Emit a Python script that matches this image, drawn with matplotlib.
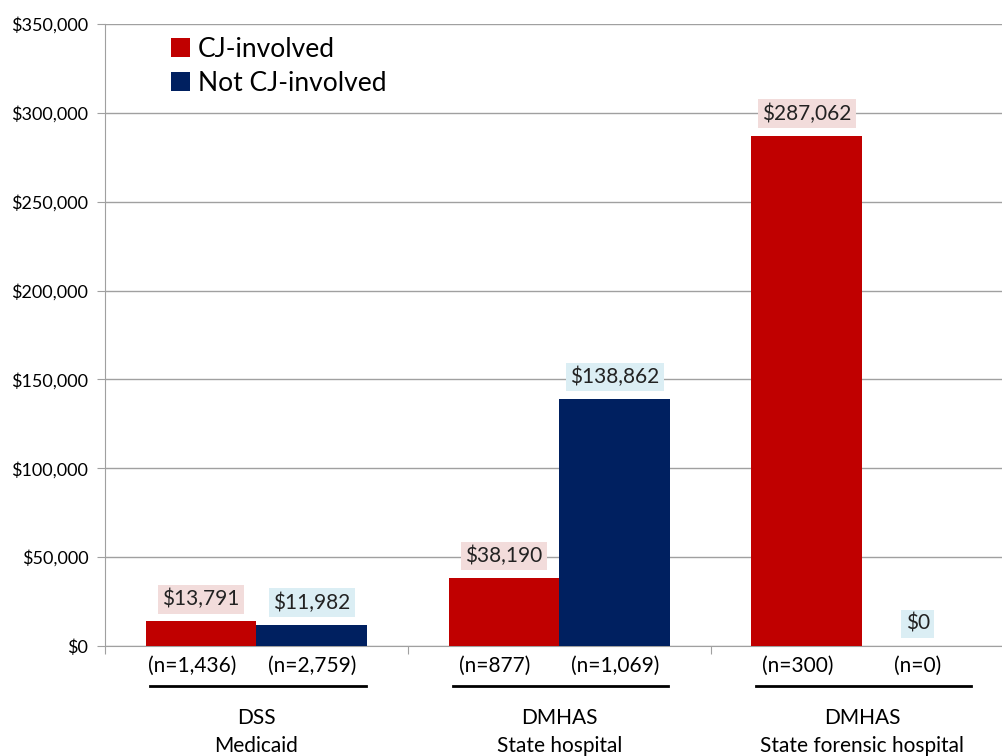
import matplotlib.pyplot as plt
import matplotlib.transforms as mtransforms
import numpy as np

plt.rcParams['font.family'] = ['Lato', 'DejaVu Sans']

# Average cost per person by payer / setting
kategori = ['DSS\nMedicaid', 'DMHAS\nState hospital', 'DMHAS\nState forensic hospital']
cj_involved = [13791, 38190, 287062]
not_cj_involved = [11982, 138862, 0]
n_cj = ['(n=1,436)', '(n=877)', '(n=300)']
n_not_cj = ['(n=2,759)', '(n=1,069)', '(n=0)']

merah = '#C00000'
biru = '#002060'

fig = plt.figure(figsize=(10.03, 7.56), dpi=100)
ax = fig.add_axes([0.1047, 0.1455, 0.906, 0.8228])

x = np.arange(len(kategori))
lebar = 0.366
bar_cj = ax.bar(x - lebar / 2, cj_involved, lebar, color=merah, label='CJ-involved', zorder=3)
bar_not = ax.bar(x + lebar / 2, not_cj_involved, lebar, color=biru, label='Not CJ-involved', zorder=3)

ax.set_xlim(-0.5, 2.5)
ax.set_ylim(0, 350000)
ax.set_yticks(np.arange(0, 350001, 50000))
ax.set_yticklabels(['${:,.0f}'.format(v) for v in np.arange(0, 350001, 50000)], fontsize=13)
ax.yaxis.grid(True, color='#A0A0A0', linewidth=1, zorder=0)
ax.tick_params(axis='y', length=6, color='#A0A0A0', pad=6)
ax.set_xticks([-0.5, 0.5, 1.5])
ax.set_xticklabels([])
ax.tick_params(axis='x', length=6, color='#A0A0A0', direction='out')
for s in ['top', 'right']:
    ax.spines[s].set_visible(False)
ax.spines['left'].set_color('#A0A0A0')
ax.spines['bottom'].set_color('#A0A0A0')

# Label nilai dengan kotak latar
def label_nilai(bars, nilai, warna_kotak):
    for b, v in zip(bars, nilai):
        ax.annotate('${:,.0f}'.format(v), (b.get_x() + b.get_width() / 2, v),
                    xytext=(0, 16), textcoords='offset points',
                    ha='center', va='center', fontsize=15, color='#222222',
                    bbox=dict(boxstyle='square,pad=0.2', fc=warna_kotak, ec='none'),
                    zorder=4)

label_nilai(bar_cj, cj_involved, '#F2DCDB')
label_nilai(bar_not, not_cj_involved, '#DBEEF4')

# Jumlah n, garis bawah dan nama kategori di bawah sumbu
trans = mtransforms.blended_transform_factory(ax.transData, ax.transAxes)
for i in range(len(kategori)):
    ax.text(i - lebar / 2 - 0.03, -0.032, n_cj[i], transform=trans, ha='center', va='center', fontsize=15)
    ax.text(i + lebar / 2, -0.032, n_not_cj[i], transform=trans, ha='center', va='center', fontsize=15)
    ax.plot([i - 0.35, i + 0.36], [-0.064, -0.064], transform=trans, color='black',
            linewidth=2, clip_on=False)
    ax.text(i, -0.138, kategori[i], transform=trans, ha='center', va='center',
            fontsize=15, linespacing=1.5)

ax.legend(loc='upper left', bbox_to_anchor=(0.047, 1.018), frameon=False, fontsize=19,
          handlelength=0.7, handleheight=0.7, handletextpad=0.3, labelspacing=0.35)

plt.savefig('out.png', dpi=100)
